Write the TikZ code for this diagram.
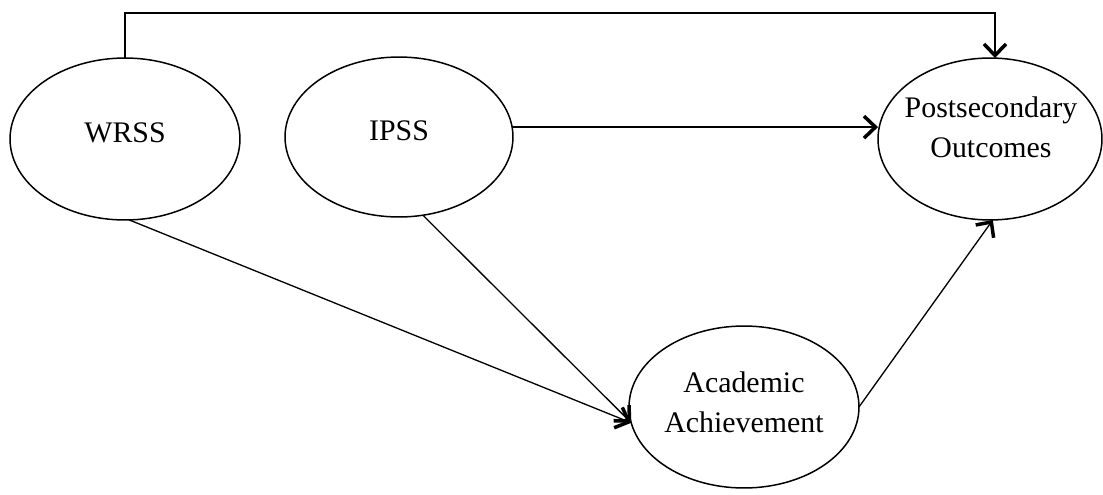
\documentclass[tikz,border=0pt]{standalone}
\usepackage{fontspec}
\setmainfont{Liberation Serif}
\usetikzlibrary{arrows.meta,shapes.geometric}

\begin{document}
\begin{tikzpicture}[x=0.02cm,y=-0.02cm,
  var/.style={draw,ellipse,line width=0.85pt,inner sep=0pt,outer sep=0pt,
    minimum width=4.6cm,minimum height=3.24cm},
  txt/.style={font=\fontsize{17}{22.7}\selectfont,align=center},
  arr/.style={line width=0.75pt,-{Straight Barb[length=2.3mm,width=4.4mm,line width=2pt]}}]
\useasboundingbox (0,0) rectangle (1103,494);
% variables
\node[var] (wrss) at (125,139) {};
\node[txt] (wrsst) at (125,133) {WRSS};
\node[var,minimum width=4.56cm,minimum height=3.2cm] (ipss) at (399,137) {};
\node[txt] (ipsst) at (399,131) {IPSS};
\node[var,minimum width=4.48cm] (post) at (990,139) {};
\node[txt] (postt) at (991,127) {Postsecondary\\Outcomes};
\node[var] (acad) at (744,407) {};
\node[txt] (acadt) at (744,402) {Academic\\Achievement};
% paths
\coordinate (top) at (560,13);
\draw[arr] (wrss.north) |- (top) -| ([xshift=0.1cm]post.north);
\draw[arr] (ipss.5) -- (ipss.5 -| post.west);
\draw[arr] (wrss.-87) -- (acad.188);
\draw[arr] (ipss.-73) -- (acad.188);
\draw[arr] (acad.east) -- (post.-88);
\end{tikzpicture}
\end{document}
